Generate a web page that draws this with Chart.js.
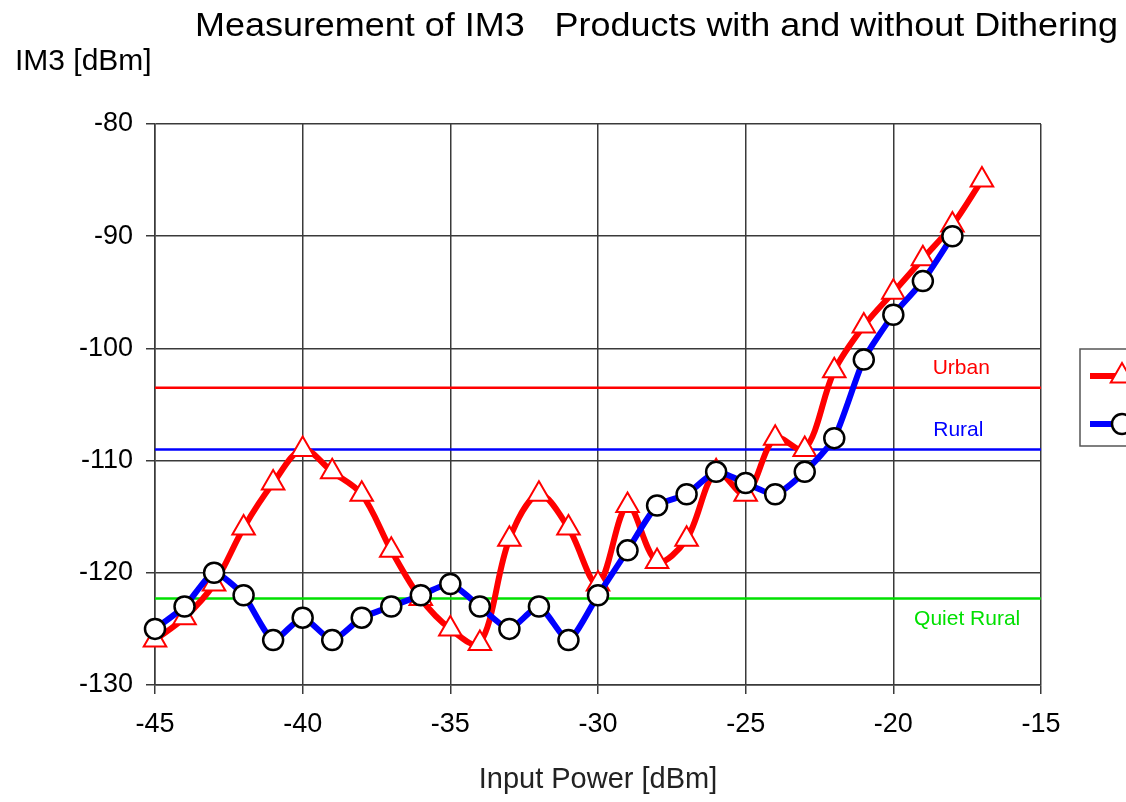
<!DOCTYPE html>
<html>
<head>
<meta charset="utf-8">
<script src="https://cdn.jsdelivr.net/npm/chart.js@4.4.1/dist/chart.umd.min.js"></script>
<style>
  html, body { margin: 0; padding: 0; background: #fff; overflow: hidden; }
</style>
</head>
<body>
<canvas id="chart" width="1126" height="802"></canvas>
<script>
// input power [dBm]
const xRed = [-45, -44, -43, -42, -41, -40, -39, -38, -37, -36, -35, -34, -33, -32, -31,
  -30, -29, -28, -27, -26, -25, -24, -23, -22, -21, -20, -19, -18, -17];
const imRed = [-126, -124, -121, -116, -112, -109, -111, -113, -118, -122.3, -125, -126.3, -117, -113, -116,
  -121, -114, -119, -117, -111, -113, -108, -109, -102, -98, -95, -92, -89, -85];

const xBlue = [-45, -44, -43, -42, -41, -40, -39, -38, -37, -36, -35, -34, -33, -32, -31,
  -30, -29, -28, -27, -26, -25, -24, -23, -22, -21, -20, -19, -18];
const imBlue = [-125, -123, -120, -122, -126, -124, -126, -124, -123, -122, -121, -123, -125, -123, -126,
  -122, -118, -114, -113, -111, -112, -113, -111, -108, -101, -97, -94, -90];

// reference levels
const refNames = ['Urban', 'Rural', 'Quiet Rural'];
const refLevels = [-103.5, -109, -122.3];
const refColors = ['#ff0000', '#0000ff', '#00e000'];
const refLabelX = [-17.7, -17.8, -17.5];

const xTicks = [-45, -40, -35, -30, -25, -20, -15];
const yTicks = [-130, -120, -110, -100, -90, -80];

const titleText = 'Measurement of IM3   Products with and without Dithering';
const yTitle = 'IM3 [dBm]';
const xTitle = 'Input Power [dBm]';

const FONT = "'Liberation Sans', Arial, sans-serif";

const toPts = (xs, ys) => xs.map((x, i) => ({ x: x, y: ys[i] }));

const datasets = [
  {
    label: 'with Dithering',
    data: toPts(xBlue, imBlue),
    borderColor: '#0000ff',
    borderWidth: 6,
    tension: 0.2,
    pointStyle: 'circle',
    pointRadius: 10,
    pointBorderColor: '#000',
    pointBorderWidth: 2.5,
    pointBackgroundColor: '#fff',
    clip: false
  },
  {
    label: 'without Dithering',
    data: toPts(xRed, imRed),
    borderColor: '#ff0000',
    borderWidth: 6,
    tension: 0.33,
    pointStyle: 'triangle',
    pointRadius: 13,
    pointBorderColor: '#ff0000',
    pointBorderWidth: 2,
    pointBackgroundColor: '#fff',
    clip: false
  }
];
refLevels.forEach((v, i) => {
  datasets.push({
    label: refNames[i],
    data: [{ x: -45, y: v }, { x: -15, y: v }],
    borderColor: refColors[i],
    borderWidth: 2.5,
    pointRadius: 0
  });
});

// title, y label, reference labels and the clipped legend box
const decorations = {
  id: 'decorations',
  afterDraw(chart) {
    const ctx = chart.ctx;
    const xs = chart.scales.x, ys = chart.scales.y;
    ctx.save();
    ctx.fillStyle = '#000';
    ctx.textBaseline = 'middle';
    ctx.textAlign = 'left';
    ctx.font = '34px ' + FONT;
    const tw = ctx.measureText(titleText).width;
    ctx.save();
    ctx.translate(195, 27);
    ctx.scale(923 / tw, 1);
    ctx.fillText(titleText, 0, 0);
    ctx.restore();

    ctx.font = '30px ' + FONT;
    ctx.fillText(yTitle, 15, 62);

    ctx.font = '21px ' + FONT;
    ctx.textAlign = 'center';
    refNames.forEach((name, i) => {
      const off = i === 2 ? 21 : -19;
      ctx.fillStyle = refColors[i];
      ctx.fillText(name, xs.getPixelForValue(refLabelX[i]), ys.getPixelForValue(refLevels[i]) + off);
    });

    // legend (runs off the right edge)
    const lx = chart.chartArea.right + 39, ly = 349;
    ctx.strokeStyle = '#555';
    ctx.lineWidth = 1.5;
    ctx.strokeRect(lx, ly, 220, 97);
    const rows = [datasets[1], datasets[0]];
    rows.forEach((ds, i) => {
      const y = ly + 27 + i * 48;
      ctx.strokeStyle = ds.borderColor;
      ctx.lineWidth = 6;
      ctx.beginPath();
      ctx.moveTo(lx + 10, y);
      ctx.lineTo(lx + 60, y);
      ctx.stroke();
      ctx.fillStyle = '#fff';
      ctx.strokeStyle = ds.pointBorderColor;
      ctx.lineWidth = ds.pointBorderWidth;
      ctx.beginPath();
      if (ds.pointStyle === 'circle') {
        ctx.arc(lx + 42, y, ds.pointRadius, 0, Math.PI * 2);
      } else {
        const r = ds.pointRadius;
        ctx.moveTo(lx + 42, y - r);
        ctx.lineTo(lx + 42 + r * 0.866, y + r / 2);
        ctx.lineTo(lx + 42 - r * 0.866, y + r / 2);
        ctx.closePath();
      }
      ctx.fill();
      ctx.stroke();
    });
    ctx.restore();
  }
};

new Chart(document.getElementById('chart').getContext('2d'), {
  type: 'line',
  data: { datasets: datasets },
  plugins: [decorations],
  options: {
    responsive: false,
    animation: false,
    layout: { padding: { left: 10, right: 85, top: 124, bottom: 0 } },
    plugins: {
      legend: { display: false },
      tooltip: { enabled: false },
      title: { display: false }
    },
    scales: {
      x: {
        type: 'linear',
        min: -45,
        max: -15,
        afterBuildTicks: (axis) => { axis.ticks = xTicks.map(v => ({ value: v })); },
        afterFit: (axis) => { axis.height = 117; },
        ticks: {
          color: '#000',
          font: { family: FONT, size: 27 },
          padding: 14,
          maxRotation: 0
        },
        grid: { color: '#3a3a3a', lineWidth: 1.5, tickLength: 9, tickColor: '#3a3a3a' },
        border: { color: '#3a3a3a', width: 1.5 },
        title: {
          display: true,
          text: xTitle,
          color: '#222',
          font: { family: FONT, size: 29 },
          padding: { top: 0, bottom: 5 }
        }
      },
      y: {
        type: 'linear',
        min: -130,
        max: -80,
        afterBuildTicks: (axis) => { axis.ticks = yTicks.map(v => ({ value: v })); },
        afterFit: (axis) => { axis.width = 145; },
        ticks: {
          color: '#000',
          font: { family: FONT, size: 27 },
          padding: 13
        },
        grid: { color: '#3a3a3a', lineWidth: 1.5, tickLength: 9, tickColor: '#3a3a3a' },
        border: { color: '#3a3a3a', width: 1.5 }
      }
    }
  }
});
</script>
</body>
</html>
